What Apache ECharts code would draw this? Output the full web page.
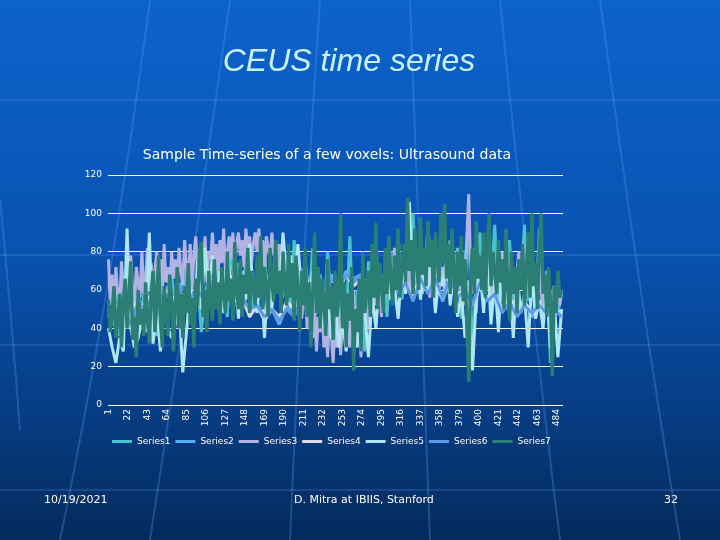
<!DOCTYPE html>
<html><head><meta charset="utf-8">
<script src="https://cdn.jsdelivr.net/npm/echarts@6/dist/echarts.min.js"></script>
<style>html,body{margin:0;padding:0;}#c{width:720px;height:540px;}</style>
</head><body><div id="c"></div>
<script>
// ---- data ----
var categoryCount = 490;           // time points 1..490
var yTicks = [0, 20, 40, 60, 80, 100, 120];
var seriesNames = ['Series1','Series2','Series3','Series4','Series5','Series6','Series7'];
// sampling step (time points between stored readings) per series
var seriesStep = [4, 8, 2, 8, 4, 8, 2];

var series1 = [50,42,58,36,52,40,62,45,60, 48,66,40,58,36,60,50,42,68, 52,64,40,72,55,44,66,38,58,
  66,50,78,56,70,46,82,60,74, 55,76,62,50,72,58,80,52,70, 62,84,56,78,50,86,65,45,72,
  56,82,48,68,42,80,52,62,38, 66,45,88,35,60,50,28,75,56, 85,52,68,46,80,62,88,55,72,
  64,100,58,78,68,92,72,84,62, 96,74,86,65,82,45,75,98,22, 68,90,58,80,62,94,52,78,68,
  86,48,72,62,94,54,80,46,92, 58,70,22,62,48,58];
var series2 = [48,40,52,44,56,48,58,52,62,54,64,56,62,52,66,58,64,54,58,48,54,44,50,42,52,46,58,52,64,58,
  68,62,70,66,68,62,70,60,70,58,66,56,68,60,64,54,66,58,62,52,64,56,60,50,56,48,54,46,52,48,52,46];
var series3 = [76,52,68,45,72,58,50,75,62,48, 70,55,78,60,50,72,64,56,80,58, 66,82,60,74,56,70,80,62,76,58,
  84,64,72,58,80,66,76,60,82,70, 62,86,72,66,84,60,78,88,68,74, 82,70,88,64,80,76,90,72,84,68,
  86,74,92,70,80,88,76,90,72,84, 90,78,86,72,92,80,88,74,84,90, 80,92,74,86,70,88,82,76,90,78,
  86,72,84,68,80,62,76,58,72,66, 56,74,50,68,45,62,58,40,55,48, 35,52,28,46,38,55,30,42,25,48,
  36,22,44,30,50,26,42,35,55,38, 30,48,60,36,52,42,25,58,44,50, 40,62,48,70,52,58,74,46,66,56,
  78,60,72,54,82,64,70,58,76,62, 68,84,60,78,56,72,80,62,74,58, 76,62,82,56,70,64,52,74,60,68,
  72,58,84,66,76,62,70,56,80,64, 60,74,52,88,110,70,58,76,48,66, 62,78,56,72,84,60,70,52,76,64,
  74,58,80,62,70,54,76,60,66,56, 70,80,62,76,84,66,72,58,78,64, 68,52,74,60,48,66,56,62,50,58,
  62,54,66,52,60];
var series4 = [46,52,40,56,48,54,58,50,60,54,58,52,62,56,62,52,60,54,56,46,52,44,50,46,54,50,58,54,62,58,
  66,60,68,62,66,58,66,58,68,60,64,58,66,60,62,56,66,58,60,52,62,56,58,50,56,50,54,48,52,48,50,48];
var series5 = [40,30,22,35,28,92,40,30,35, 45,38,90,32,50,28,55,40,35, 42,55,17,38,60,45,75,50,82,
  60,78,55,70,48,80,62,72,45, 70,55,84,60,48,72,35,68,50, 82,58,90,65,78,55,84,60,75,
  55,70,48,62,40,58,35,52,30, 45,28,55,40,30,62,48,25,58, 40,66,50,75,55,62,45,72,58,
  106,62,80,55,72,58,85,48,68, 62,78,52,70,46,58,35,65,18, 55,72,48,80,42,66,38,75,50,
  62,35,70,48,58,30,68,45,55, 40,62,30,55,25,50];
var series6 = [48,44,52,42,54,48,58,50,58,52,62,56,60,54,64,56,62,52,56,50,52,46,50,44,50,46,56,50,60,56,
  66,62,68,64,68,60,66,60,70,58,64,54,66,58,66,56,66,56,60,52,64,54,58,48,54,46,52,48,52,48,50,46];
var series7 = [55,38,48,62,35,44,58,30,52,66, 40,57,75,34,46,25,60,42,50,36, 64,45,32,58,70,38,52,78,44,30,
  62,48,36,68,55,28,50,72,40,58, 35,62,48,74,42,56,30,66,52,80, 85,46,60,38,70,55,44,76,50,64,
  42,72,58,48,80,54,66,44,85,60, 50,76,46,68,58,82,48,70,62,52, 78,56,88,50,72,60,46,82,64,54,
  86,58,70,48,80,62,52,84,56,74, 44,78,60,38,70,52,82,46,64,30, 58,90,48,72,40,66,54,36,76,50,
  62,34,70,46,56,100,40,64,30,58, 44,72,18,50,38,66,28,80,48,60, 70,46,84,56,95,50,74,62,48,82,
  58,88,66,52,78,60,92,56,72,84, 64,108,70,86,58,92,74,60,98,68, 82,62,96,72,86,56,90,76,64,100,
  74,105,66,84,58,92,70,48,80,62, 88,54,76,40,12,68,82,58,96,66, 78,60,90,56,84,100,62,80,70,58,
  86,64,76,50,92,62,44,80,58,72, 48,76,60,84,52,70,90,56,100,62, 74,50,82,100,58,68,46,72,54,15,
  62,48,70,56,60];
var seriesValues = [series1, series2, series3, series4, series5, series6, series7];
var seriesColors = ['#48c2cc','#58aef0','#b2b2e4','#dcdce8','#b0e6f2','#5c9ae6','#2a7e74'];

// ---- chart ----
var categories = [];
for (var i = 1; i <= categoryCount; i++) categories.push(String(i));

var chart = echarts.init(document.getElementById('c'), null, {renderer: 'canvas'});
var series = seriesNames.map(function (name, k) {
  return {
    name: name, type: 'line', showSymbol: false, symbol: 'none',
    lineStyle: {width: k === 6 ? 3.4 : 3, color: seriesColors[k]},
    itemStyle: {color: seriesColors[k]},
    data: seriesValues[k].map(function (v, j) { return [j * seriesStep[k], v]; }),
    z: 2 + k
  };
});

var deco = [];
var arcDefs = [[60,540,110,300,150,0],[150,540,190,280,230,0],[290,540,300,300,320,0],
  [430,540,420,300,410,0],[560,540,530,300,500,0],[680,540,640,300,600,0],[20,430,10,300,0,200]];
arcDefs.forEach(function (a) {
  deco.push({type: 'bezierCurve', silent: true, z: -1,
    shape: {x1: a[0], y1: a[1], x2: a[4], y2: a[5], cpx1: a[2], cpy1: a[3]},
    style: {stroke: 'rgba(90,160,240,0.3)', lineWidth: 2, fill: null}});
});
[100, 255, 345, 490].forEach(function (y) {
  deco.push({type: 'line', silent: true, z: -1, shape: {x1: 0, y1: y, x2: 720, y2: y},
    style: {stroke: 'rgba(90,160,240,0.22)', lineWidth: 2}});
});

chart.setOption({
  animation: false,
  backgroundColor: new echarts.graphic.LinearGradient(0, 0, 0, 1, [
    {offset: 0, color: '#0c63cb'}, {offset: 0.45, color: '#0953b2'},
    {offset: 0.8, color: '#063a7e'}, {offset: 1, color: '#052a5c'}]),
  graphic: deco.concat([
    {type: 'text', x: 349, y: 62, style: {text: 'CEUS time series', align: 'center', verticalAlign: 'middle',
      fill: '#c8f2ff', font: 'italic 32px "Liberation Sans"',
      shadowColor: 'rgba(0,0,30,0.7)', shadowOffsetX: 2, shadowOffsetY: 2, shadowBlur: 2}},
    {type: 'text', x: 327, y: 155, style: {text: 'Sample Time-series of a few voxels: Ultrasound data',
      align: 'center', verticalAlign: 'middle', fill: '#ffffff', font: '14px "DejaVu Sans"'}},
    {type: 'text', left: 44, top: 495, style: {text: '10/19/2021', fill: '#ffffff', font: '11px "DejaVu Sans"'}},
    {type: 'text', left: 294, top: 495, style: {text: 'D. Mitra at IBIIS, Stanford', fill: '#ffffff', font: '11px "DejaVu Sans"'}},
    {type: 'text', left: 664, top: 495, style: {text: '32', fill: '#ffffff', font: '11px "DejaVu Sans"'}}
  ]),
  legend: {
    data: seriesNames, bottom: 94, left: 112, padding: 0, icon: 'rect', itemWidth: 20, itemHeight: 3, itemGap: 5,
    textStyle: {color: '#ffffff', fontSize: 9, fontFamily: 'DejaVu Sans'}
  },
  grid: {left: 108, right: 157, top: 175, bottom: 135, containLabel: false},
  xAxis: {
    type: 'category', data: categories, boundaryGap: true,
    axisLine: {show: false}, axisTick: {show: false},
    axisLabel: {interval: 20, rotate: 90, color: '#ffffff', fontSize: 9, fontFamily: 'DejaVu Sans', margin: 4}
  },
  yAxis: {
    type: 'value', min: yTicks[0], max: yTicks[yTicks.length - 1], interval: 20,
    axisLine: {show: false}, axisTick: {show: false},
    axisLabel: {color: '#ffffff', fontSize: 9, fontFamily: 'DejaVu Sans', margin: 6},
    splitLine: {lineStyle: {color: '#ffffff', width: 1}}
  },
  series: series
});
</script></body></html>
